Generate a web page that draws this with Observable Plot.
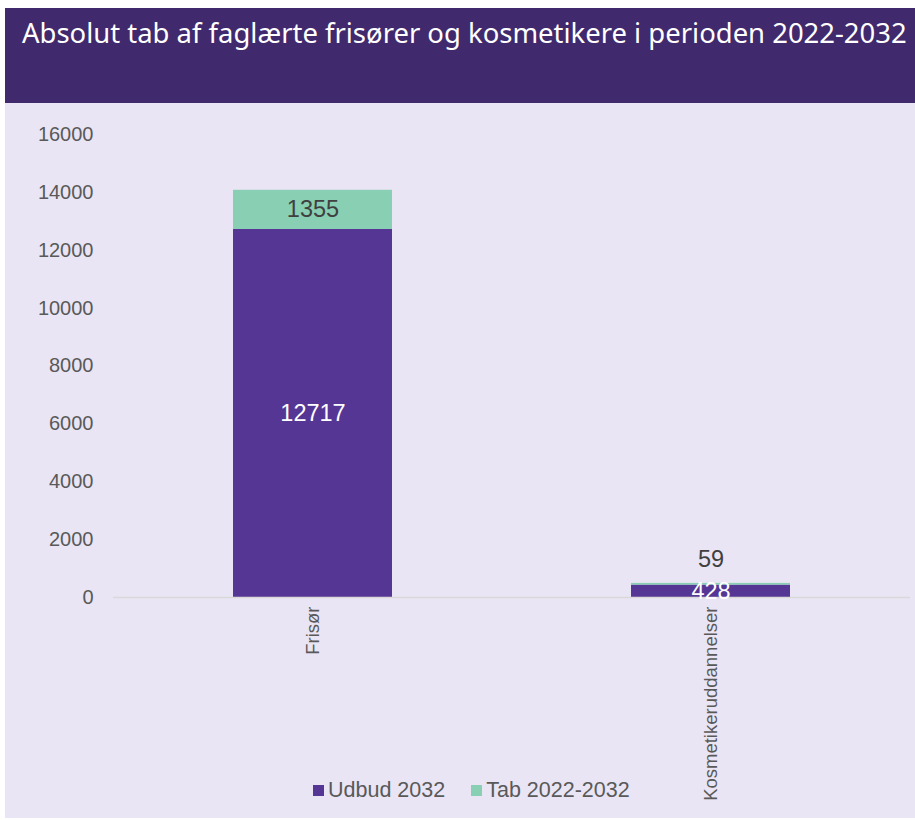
<!DOCTYPE html>
<html>
<head>
<meta charset="utf-8">
<script src="https://cdn.jsdelivr.net/npm/d3@7"></script>
<script src="https://cdn.jsdelivr.net/npm/@observablehq/plot@0.6"></script>
<style>
  html, body { margin: 0; padding: 0; background: #ffffff; }
  #wrap { position: absolute; left: 5px; top: 8px; width: 910px; height: 810px; background: #E9E5F4; overflow: hidden; }
  #title { position: absolute; left: 0; top: 0; width: 910px; height: 95px; background: #41296D; }
  #title span { position: absolute; left: 17px; top: 6px; color: #ffffff; font-family: "Noto Sans", sans-serif; font-size: 24px; white-space: nowrap; }
  #chart { position: absolute; left: 0; top: 95px; }
  #legend { position: absolute; top: 769px; left: 308px; font-family: "Liberation Sans", Arial, sans-serif; font-size: 21.5px; color: #595959; white-space: nowrap; }
  #legend .item { display: inline-flex; align-items: center; margin-right: 26px; }
  #legend .sw { width: 11px; height: 11px; display: inline-block; margin-right: 4px; }
</style>
</head>
<body>
<div id="wrap">
  <div id="title"><span id="titletext">Absolut tab af faglærte frisører og kosmetikere i perioden 2022-2032</span></div>
  <div id="chart"></div>
  <div id="legend"></div>
</div>
<script>
const categories = ["Frisør", "Kosmetikeruddannelser"];
const seriesNames = ["Udbud 2032", "Tab 2022-2032"];
const udbud2032 = [12717, 428];
const tab20222032 = [1355, 59];
const yTicks = [0, 2000, 4000, 6000, 8000, 10000, 12000, 14000, 16000];
const colors = ["#563695", "#88CFB3"];

const rows = [];
categories.forEach((c, i) => {
  rows.push({category: c, series: seriesNames[0], value: udbud2032[i]});
  rows.push({category: c, series: seriesNames[1], value: tab20222032[i]});
});

const stackOpts = {x: "category", y: "value", z: "series", order: seriesNames};
const small = 300;

const chart = Plot.plot({
  width: 910,
  height: 715,
  marginTop: 31,
  marginBottom: 221,
  marginLeft: 108,
  marginRight: 5,
  style: {background: "transparent", fontFamily: "'Liberation Sans', Arial, sans-serif"},
  x: {domain: categories, paddingInner: 0.6, paddingOuter: 0.3, label: null},
  y: {domain: [0, 16000], label: null},
  color: {domain: seriesNames, range: colors},
  marks: [
    Plot.axisY({ticks: yTicks, tickSize: 0, tickPadding: 20, tickFormat: d => String(d), fontSize: 20, color: "#595959", label: null}),
    Plot.axisX({tickSize: 0, tickPadding: 9, tickRotate: -90, fontSize: 18.5, color: "#595959", label: null}),
    Plot.barY(rows, Plot.stackY({...stackOpts, fill: "series"})),
    Plot.ruleY([0], {stroke: "#D9D9D9", strokeWidth: 1.5}),
    // labels centred in their segment
    Plot.text(rows, Plot.stackY({...stackOpts,
      text: d => (d.series === seriesNames[0] || d.value >= small) ? String(d.value) : "",
      fill: d => d.series === seriesNames[0] ? "#ffffff" : "#404040",
      fontSize: 23.5})),
    // small segment labels placed above the bar
    Plot.text(rows, Plot.stackY2({...stackOpts,
      text: d => (d.series !== seriesNames[0] && d.value < small) ? String(d.value) : "",
      fill: "#404040", fontSize: 23.5, dy: -24}))
  ]
});
document.getElementById("chart").appendChild(chart);

// legend
const leg = document.getElementById("legend");
seriesNames.forEach((s, i) => {
  const it = document.createElement("span");
  it.className = "item";
  const sw = document.createElement("span");
  sw.className = "sw";
  sw.style.background = colors[i];
  it.appendChild(sw);
  it.appendChild(document.createTextNode(s));
  leg.appendChild(it);
});

// fit title width
const t = document.getElementById("titletext");
const w = t.getBoundingClientRect().width;
t.style.fontSize = (24 * 885 / w) + "px";
</script>
</body>
</html>
